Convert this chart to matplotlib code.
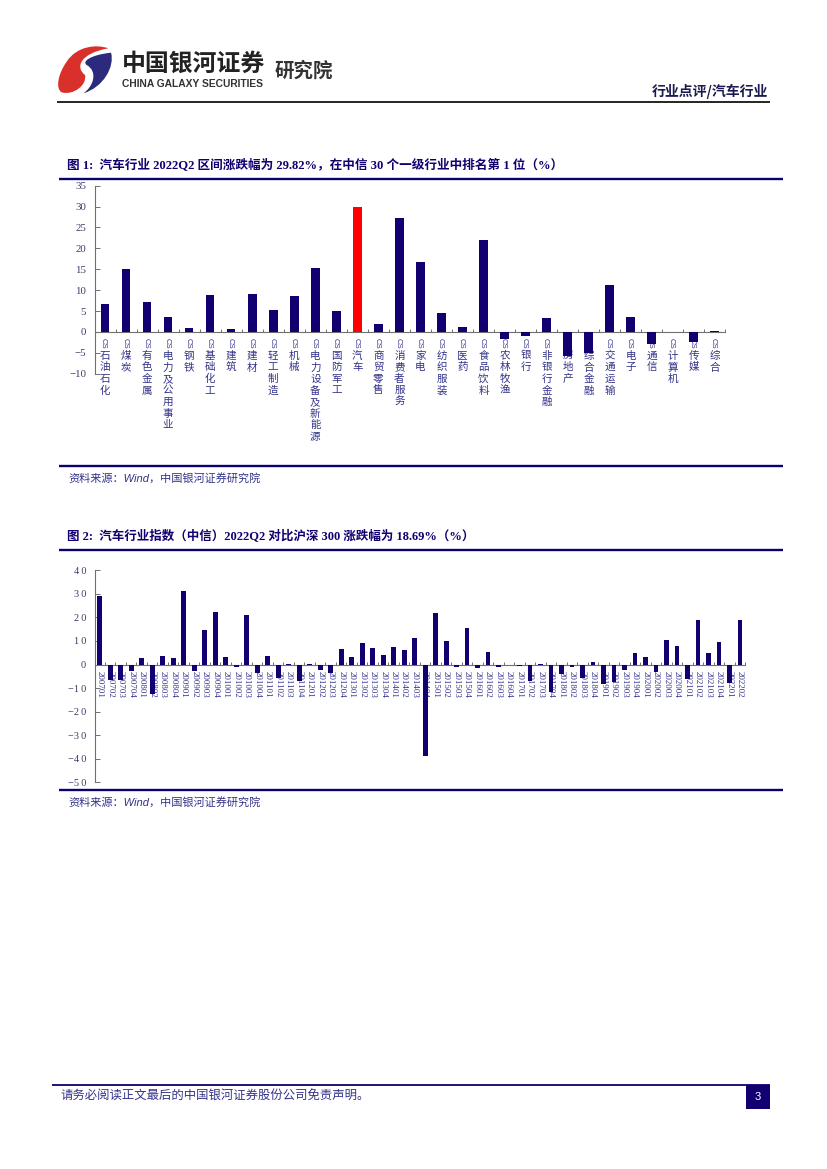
import matplotlib
matplotlib.use('Agg')
import matplotlib.pyplot as plt
from matplotlib.patches import PathPatch, Rectangle
from matplotlib.path import Path

W, H = 827, 1169
NAVY = '#120070'
LABEL = '#33338a'
TICK = '#3c3c64'
AXIS = '#707070'
CJK = ['Noto Sans CJK SC', 'DejaVu Sans']
SERIF_CJK = ['Liberation Serif', 'Noto Sans CJK SC']
SANS_CJK = ['Liberation Sans', 'Noto Sans CJK SC']

# chart 1
industries = ['石油石化', '煤炭', '有色金属', '电力及公用事业', '钢铁', '基础化工', '建筑', '建材',
              '轻工制造', '机械', '电力设备及新能源', '国防军工', '汽车', '商贸零售', '消费者服务',
              '家电', '纺织服装', '医药', '食品饮料', '农林牧渔', '银行', '非银行金融', '房地产',
              '综合金融', '交通运输', '电子', '通信', '计算机', '传媒', '综合']
returns = [6.7, 15.0, 7.1, 3.6, 0.9, 8.9, 0.6, 9.0, 5.3, 8.6, 15.2, 4.9, 29.82, 1.8, 27.3,
           16.8, 4.5, 1.2, 21.9, -1.8, -0.9, 3.3, -5.8, -5.1, 11.3, 3.5, -2.8, -0.1, -2.4, 0.3]
highlight = '汽车'
yticks_1 = [-10, -5, 0, 5, 10, 15, 20, 25, 30, 35]

# chart 2
quarters = ['200701', '200702', '200703', '200704', '200801', '200802', '200803', '200804',
            '200901', '200902', '200903', '200904', '201001', '201002', '201003', '201004',
            '201101', '201102', '201103', '201104', '201201', '201202', '201203', '201204',
            '201301', '201302', '201303', '201304', '201401', '201402', '201403', '201404',
            '201501', '201502', '201503', '201504', '201601', '201602', '201603', '201604',
            '201701', '201702', '201703', '201704', '201801', '201802', '201803', '201804',
            '201901', '201902', '201903', '201904', '202001', '202002', '202003', '202004',
            '202101', '202102', '202103', '202104', '202201', '202202']
excess = [29.0, -6.7, -6.4, -2.7, 2.7, -12.5, 3.7, 2.8,
          31.4, -2.8, 14.8, 22.2, 3.0, -0.9, 21.0, -3.7,
          3.7, -5.8, 0.1, -7.0, 0.4, -2.2, -3.8, 6.7,
          3.4, 9.0, 7.2, 4.2, 7.4, 6.0, 11.4, -38.8,
          21.7, 10.0, -1.0, 15.7, -1.5, 5.2, -0.9, -0.1,
          -0.7, -7.2, 0.1, -11.8, -3.9, -0.9, -5.8, 1.2,
          -8.3, -7.5, -2.3, 5.0, 3.0, -3.2, 10.2, 7.9,
          -6.3, 19.0, 5.1, 9.5, -7.9, 18.69]
yticks_2 = [-50, -40, -30, -20, -10, 0, 10, 20, 30, 40]

fig = plt.figure(figsize=(W / 100, H / 100), dpi=100, facecolor='white')

# page layer in pixel coordinates
page = fig.add_axes([0, 0, 1, 1])
page.set_xlim(0, W)
page.set_ylim(H, 0)
page.axis('off')


def px_axes(left, right, top, bottom):
    return fig.add_axes([left / W, 1 - bottom / H, (right - left) / W, (bottom - top) / H])


def style_axes(ax, n, yticks, ylabels, size):
    ax.patch.set_alpha(0)
    ax.set_xlim(-0.5, n - 0.5)
    ax.set_ylim(min(yticks), max(yticks))
    for s in ['top', 'right']:
        ax.spines[s].set_visible(False)
    ax.spines['bottom'].set_position(('data', 0))
    for s in ['left', 'bottom']:
        ax.spines[s].set_color(AXIS)
        ax.spines[s].set_linewidth(0.8)
        ax.spines[s].set_zorder(0.5)
    ax.set_axisbelow(True)
    ax.set_yticks(yticks)
    ax.set_yticklabels(ylabels, family='Liberation Serif', fontsize=size, color=TICK)
    ax.tick_params(axis='y', direction='in', length=3.5, width=0.7, color=AXIS, pad=6)
    ax.set_xticks([i - 0.5 for i in range(n + 1)], minor=True)
    ax.tick_params(axis='x', which='minor', direction='in', length=2.2, width=0.7, color=AXIS)
    ax.tick_params(axis='x', which='major', length=0)


def signed(v):
    s = '\u2009'.join(str(abs(v)))
    return '\u2212' + s if v < 0 else s


# chart 1
ax1 = px_axes(94.5, 725.3, 185.7, 373.7)
style_axes(ax1, len(industries), yticks_1, [str(v).replace('-', '\u2212') for v in yticks_1], 7.8)
colors = ['#ff0000' if name == highlight else NAVY for name in industries]
ax1.bar(range(len(industries)), returns, width=0.41, color=colors, zorder=2)
ax1.set_xticks(range(len(industries)))
ax1.set_xticklabels(['\n'.join(name) for name in industries], family=CJK, fontsize=7.6,
                    color=LABEL, linespacing=1.2)
ax1.tick_params(axis='x', which='major', pad=13.5)
for i in range(len(industries)):
    ax1.annotate('CS', xy=(i, 0), xytext=(-1, -8.1), textcoords='offset points', rotation=-90,
                 ha='center', va='center', family='Liberation Sans', fontsize=5.6, color=LABEL,
                 zorder=0.6, annotation_clip=False)

# chart 2
ax2 = px_axes(94.5, 745.3, 570.3, 782.3)
style_axes(ax2, len(quarters), yticks_2, [signed(v) for v in yticks_2], 7.5)
ax2.bar(range(len(quarters)), excess, width=0.45, color=NAVY, zorder=2)
ax2.set_xticks(range(len(quarters)))
ax2.set_xticklabels(quarters, family='Liberation Serif', fontsize=6.5, color=LABEL,
                    rotation=-90, ha='center', va='top')
ax2.tick_params(axis='x', which='major', pad=4.5)

# rules
for y, x0, x1 in [(179, 59, 783), (466, 59, 783), (549.5, 59, 783), (790, 59, 783)]:
    page.plot([x0, x1], [y, y], color='#0b0070', lw=1.7, solid_capstyle='butt')
page.plot([57, 770], [102, 102], color='black', lw=1.2, solid_capstyle='butt')
page.plot([52, 770], [1085.3, 1085.3], color='#0b0070', lw=1.3, solid_capstyle='butt')

# titles and sources
page.text(67, 165, '图 1:  汽车行业 2022Q2 区间涨跌幅为 29.82%，在中信 30 个一级行业中排名第 1 位（%）',
          family=SERIF_CJK, fontsize=9.1, fontweight='bold', color=NAVY, va='center')
page.text(67, 536, '图 2:  汽车行业指数（中信）2022Q2 对比沪深 300 涨跌幅为 18.69%（%）',
          family=SERIF_CJK, fontsize=9.0, fontweight='bold', color=NAVY, va='center')
for y in [478, 802]:
    page.text(68, y, '资料来源：Wind，中国银河证券研究院', family=SANS_CJK, fontsize=8,
              style='italic', color=LABEL, va='center')


# logo outline traced in crop coordinates (3x, from page offset 40,30)
def logo_path(points):
    verts = [(x / 3 + 40, y / 3 + 30) for x, y in points]
    return Path(verts, [Path.MOVETO] + [Path.CURVE4] * (len(verts) - 1))


red = logo_path([(205, 55), (170, 42), (110, 48), (80, 95), (55, 130), (45, 175), (65, 187),
                 (100, 197), (142, 165), (135, 135), (105, 112), (120, 70), (205, 55)])
blue = logo_path([(213, 68), (225, 110), (190, 172), (130, 190), (160, 170), (175, 125), (140, 105),
                  (125, 95), (150, 75), (213, 68)])
page.add_patch(PathPatch(red, fc='#d9302c', ec='none'))
page.add_patch(PathPatch(blue, fc='#2c2a7c', ec='none'))
page.text(122, 64, '中国银河证券', family=CJK, fontsize=17.2, fontweight='bold', color='#222222',
          va='center')
page.text(122.5, 84, 'CHINA GALAXY SECURITIES', family='Liberation Sans', fontsize=7.4,
          fontweight='bold', color='#333333', va='center')
page.text(275, 71, '研究院', family=CJK, fontsize=14, fontweight='bold', color='#333333', va='center')
page.text(768, 91.5, '行业点评/汽车行业', family=CJK, fontsize=10, fontweight='bold', color='#1a1a50',
          ha='right', va='center')

# footer
page.text(60, 1096, '请务必阅读正文最后的中国银河证券股份公司免责声明。', family=CJK, fontsize=8.9,
          color=LABEL, va='center')
page.add_patch(Rectangle((746, 1085), 24, 24, fc='#120070', ec='none'))
page.text(758, 1096.5, '3', family='Liberation Sans', fontsize=8, color='white', ha='center', va='center')

fig.savefig('out.png', dpi=100)
